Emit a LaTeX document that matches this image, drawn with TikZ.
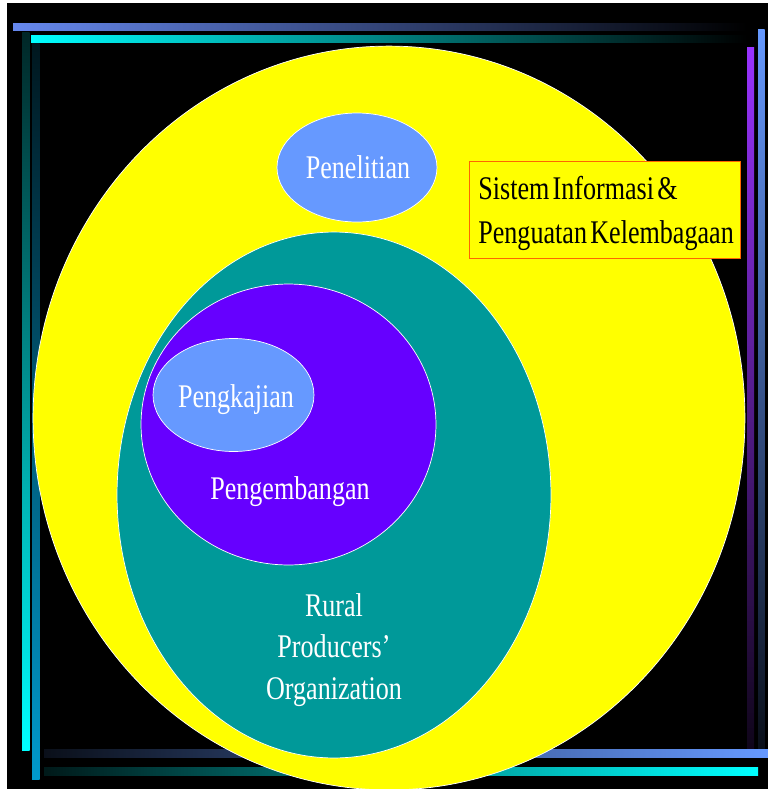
\documentclass[tikz,border=0pt]{standalone}
\usepackage{fontspec}
\usetikzlibrary{positioning, shapes.geometric}
\newfontfamily\slidefont[FakeStretch=0.79]{Liberation Serif}
\newcommand{\slidesize}[1]{\fontsize{18.8}{#1}\selectfont\spaceskip=0.1em plus 0.05em\relax}

\definecolor{slideyellow}{RGB}{255,255,0}
\definecolor{rpoteal}{RGB}{0,153,153}
\definecolor{devpurple}{RGB}{102,0,255}
\definecolor{studyblue}{RGB}{102,153,255}
\definecolor{boxorange}{RGB}{255,102,0}
\definecolor{barblue}{RGB}{102,136,238}
\definecolor{barcyan}{RGB}{0,255,255}
\definecolor{barsteel}{RGB}{0,153,204}
\definecolor{barviolet}{RGB}{153,51,255}

\tikzset{
    blob/.style={draw=white, line width=0.4pt, ellipse, inner sep=0pt},
    slidetext/.style={text=white, font=\slidefont\slidesize{23.8}},
}

\begin{document}
\begin{tikzpicture}[x=0.02cm, y=-0.02cm]
\useasboundingbox (0,0) rectangle (768,789);
\clip (0,0) rectangle (768,789);

% --- slide background ---
\fill [white] (0,0) rectangle (768,789);
\fill [black] (7,3) rectangle (768,789);

% --- frame bars ---
\shade [left color=barblue, right color=black] (13,23) rectangle (747,30.5);
\shade [left color=barcyan, right color=black] (31,35) rectangle (747,42.5);
\shade [top color=barcyan!15!black, bottom color=barcyan] (22,32) rectangle (29.5,750);
\shade [top color=barsteel!15!black, bottom color=barsteel] (32,43) rectangle (39.5,779);
\shade [top color=barviolet, bottom color=barviolet!10!black] (747,47) rectangle (754,749);
\shade [top color=studyblue, bottom color=studyblue!10!black] (758,29) rectangle (764.5,749);
\shade [left color=studyblue!10!black, right color=studyblue] (44,749) rectangle (768,757.7);
\shade [left color=barcyan!10!black, right color=barcyan] (44,767) rectangle (758,775.7);

% --- nested areas ---
\node [
    blob,
    fill=slideyellow,
    minimum width=14.24cm,
    minimum height=14.88cm,
] (sisteminfo) at (389,418) {};

\node [
    blob,
    fill=rpoteal,
    minimum width=8.68cm,
    minimum height=10.52cm,
] (rpo) at (334,495) {};

\node [
    blob,
    fill=devpurple,
    minimum width=5.9cm,
    minimum height=5.62cm,
] (pengembangan) at (288.5,424.5) {};

\node [
    blob,
    fill=studyblue,
    minimum width=3.22cm,
    minimum height=2.26cm,
] (pengkajian) at (233.5,395) {};

\node [
    blob,
    fill=studyblue,
    minimum width=3.2cm,
    minimum height=2.18cm,
] (penelitian) at (357,167.5) {};

% --- labels ---
\node [slidetext, anchor=base] (penelitiantext) at (358,178) {Penelitian};
\node [slidetext, anchor=base] (pengkajiantext) at (236,407) {Pengkajian};
\node [slidetext, anchor=base] (pengembangantext) at (290,499) {Pengembangan};
\node [slidetext, align=center] (rpotext) at (334,650) {Rural\\Producers’\\Organization};

\node [
    draw=boxorange,
    fill=slideyellow,
    rectangle,
    minimum width=5.42cm,
    minimum height=1.94cm,
] (sistembox) at (604.5,209.5) {};

\node [
    anchor=west,
    inner sep=0pt,
    align=left,
    font=\slidefont\slidesize{25.5},
] (sistemtext) at (478,213.5) {Sistem Informasi \&\\Penguatan Kelembagaan};

\end{tikzpicture}
\end{document}
